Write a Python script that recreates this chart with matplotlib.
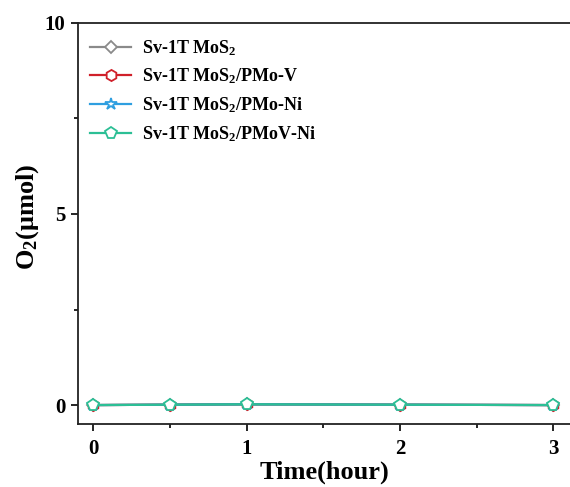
import matplotlib
matplotlib.use("Agg")
import matplotlib.pyplot as plt
from matplotlib.ticker import MultipleLocator

plt.rcParams['font.family'] = ['Liberation Serif', 'DejaVu Serif']
plt.rcParams['font.weight'] = 'bold'
plt.rcParams['mathtext.fontset'] = 'custom'
plt.rcParams['mathtext.rm'] = 'Liberation Serif:bold'
plt.rcParams['mathtext.it'] = 'Liberation Serif:bold'
plt.rcParams['mathtext.bf'] = 'Liberation Serif:bold'

time_h = [0, 0.5, 1, 2, 3]
labels = ['Sv-1T MoS$_2$', 'Sv-1T MoS$_2$/PMo-V', 'Sv-1T MoS$_2$/PMo-Ni', 'Sv-1T MoS$_2$/PMoV-Ni']
o2_mos2 = [0.0, 0.01, 0.02, 0.01, 0.0]
o2_pmov = [0.0, 0.01, 0.02, 0.01, 0.0]
o2_pmoni = [0.0, 0.01, 0.02, 0.01, 0.0]
o2_pmovni = [0.0, 0.01, 0.02, 0.01, 0.0]
colors = ['#8a8a8a', '#d0202a', '#2f9fe0', '#2cbf95']
markers = ['D', 'h', '*', 'p']
msizes = [6.5, 8, 9, 8.5]

fig = plt.figure(figsize=(5.70, 4.87), dpi=100)
ax = fig.add_axes([0.137, 0.129, 0.863, 0.824])

for y, lab, c, m, ms in zip([o2_mos2, o2_pmov, o2_pmoni, o2_pmovni], labels, colors, markers, msizes):
    ax.plot(time_h, y, color=c, marker=m, markersize=ms,
            markerfacecolor='white', markeredgecolor=c, markeredgewidth=1.3,
            linewidth=1.6, label=lab)

ax.set_xlim(-0.1, 3.11)
ax.set_ylim(-0.5, 10)
ax.xaxis.set_major_locator(MultipleLocator(1))
ax.xaxis.set_minor_locator(MultipleLocator(0.5))
ax.yaxis.set_major_locator(MultipleLocator(5))
ax.yaxis.set_minor_locator(MultipleLocator(2.5))
ax.tick_params(axis='both', which='major', direction='out', length=5, width=1.2, labelsize=15, pad=4)
ax.tick_params(axis='x', which='major', pad=6)
ax.tick_params(axis='both', which='minor', direction='out', length=3, width=1.2)
for lab in ax.get_xticklabels() + ax.get_yticklabels():
    lab.set_fontweight('bold')

ax.spines['right'].set_visible(False)
for s in ['left', 'bottom', 'top']:
    ax.spines[s].set_linewidth(1.3)
    ax.spines[s].set_color('#222222')

ax.set_xlabel('Time(hour)', fontsize=19, fontweight='bold', labelpad=1)
ax.set_ylabel('O$_2$(μmol)', fontsize=19, fontweight='bold', labelpad=3)
ax.yaxis.set_label_coords(-0.076, 0.517)

leg = ax.legend(loc='upper left', frameon=False, fontsize=13, handlelength=2.3,
                borderaxespad=0.25, labelspacing=0.5, handletextpad=0.6,
                bbox_to_anchor=(0.0, 0.992))

fig.savefig('out.png', dpi=100)
